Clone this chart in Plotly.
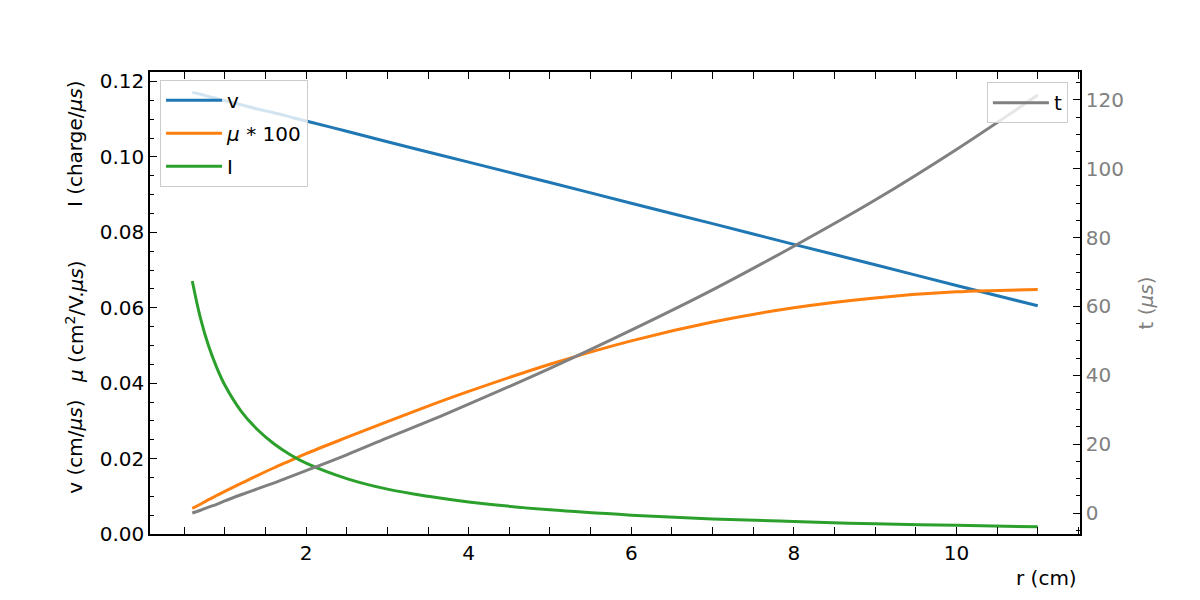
import plotly.graph_objects as go

# r (cm)
r = [0.6, 0.7, 0.8, 0.9, 1.0, 1.2, 1.4, 1.6, 1.8, 2.0, 2.5, 3.0, 3.5, 4.0,
     5.0, 6.0, 7.0, 8.0, 9.0, 10.0, 11.0]
# v (cm/us)
v = [0.1171, 0.1166, 0.1160, 0.1155, 0.1149, 0.1138, 0.1127, 0.1117, 0.1106,
     0.1095, 0.1068, 0.1040, 0.1013, 0.0986, 0.0932, 0.0877, 0.0823, 0.0768,
     0.0714, 0.0659, 0.0605]
# mu*100
mu100 = [0.0068, 0.0079, 0.0091, 0.0102, 0.0113, 0.0134, 0.0155, 0.0175, 0.0194,
         0.0213, 0.0256, 0.0298, 0.0339, 0.0378, 0.0450, 0.0512, 0.0562, 0.0600,
         0.0626, 0.0642, 0.0648]
# I (charge/us)
I = [0.0671, 0.0573, 0.0499, 0.0442, 0.0395, 0.0326, 0.0277, 0.0240, 0.0211,
     0.0188, 0.0147, 0.0119, 0.0100, 0.0085, 0.0064, 0.0050, 0.0040, 0.0033,
     0.0027, 0.0023, 0.0019]
# t (us)
t = [0.0, 0.8, 1.7, 2.5, 3.5, 5.3, 7.0, 8.7, 10.5, 12.3, 16.9, 21.8, 26.6, 31.6,
     42.0, 53.1, 64.8, 77.5, 90.9, 105.6, 121.4]

FONT = "DejaVu Sans"
LW = 3

fig = go.Figure()
fig.add_trace(go.Scatter(x=r, y=v, mode="lines", name="v", legendgroup="g1",
                         line=dict(color="#1f77b4", width=LW, shape="spline"), legend="legend"))
fig.add_trace(go.Scatter(x=r, y=mu100, mode="lines", name="<i>μ</i> * 100", legendgroup="g2",
                         line=dict(color="#ff7f0e", width=LW, shape="spline"), legend="legend"))
fig.add_trace(go.Scatter(x=r, y=I, mode="lines", name="I", legendgroup="g3",
                         line=dict(color="#2ca02c", width=LW, shape="spline"), legend="legend"))
fig.add_trace(go.Scatter(x=r, y=t, mode="lines", name="t", yaxis="y2",
                         line=dict(color="#808080", width=LW, shape="spline"), legend="legend2"))

axis_common = dict(
    ticks="inside", ticklen=7, tickwidth=1.3, tickcolor="black",
    showline=True, linecolor="black", linewidth=1.5,
    showgrid=False, zeroline=False,
    tickfont=dict(family=FONT, size=20, color="black"),
)

fig.update_layout(
    width=1192, height=592, autosize=False,
    margin=dict(l=142, r=120, t=64, b=66),
    paper_bgcolor="white", plot_bgcolor="white",
    font=dict(family=FONT, size=20, color="black"),
    xaxis=dict(range=[0.08, 11.52], tick0=0, dtick=2, mirror="allticks",
               minor=dict(dtick=0.5, tick0=0, ticks="inside", ticklen=4,
                          tickwidth=1, tickcolor="black"),
               **axis_common),
    yaxis=dict(range=[0, 0.1225], tick0=0, dtick=0.02, tickformat=".2f",
               minor=dict(dtick=0.005, tick0=0, ticks="inside", ticklen=4,
                          tickwidth=1, tickcolor="black"),
               **axis_common),
    yaxis2=dict(overlaying="y", side="right", range=[-6.1, 128.1], tick0=0, dtick=20,
                minor=dict(dtick=5, tick0=0, ticks="inside", ticklen=4,
                           tickwidth=1, tickcolor="black"),
                **{**axis_common, "tickfont": dict(family=FONT, size=20, color="#808080")}),
    legend=dict(x=0.0108, y=0.983, xanchor="left", yanchor="top",
                bgcolor="rgba(255,255,255,0.8)", bordercolor="#cccccc", borderwidth=1,
                itemwidth=56, tracegroupgap=4, groupclick="toggleitem",
                font=dict(family=FONT, size=20, color="black")),
    legend2=dict(x=0.987, y=0.978, xanchor="right", yanchor="top",
                 bgcolor="rgba(255,255,255,0.8)", bordercolor="#cccccc", borderwidth=1,
                 itemwidth=56,
                 font=dict(family=FONT, size=20, color="black")),
    showlegend=True,
)

ann_font = dict(family=FONT, size=20, color="black")
fig.add_annotation(text="I (charge/<i>μs</i>)", xref="paper", yref="paper",
                   x=-0.0806, y=0.844, textangle=-90, showarrow=False,
                   xanchor="center", yanchor="middle", font=ann_font)
fig.add_annotation(text="<i>μ</i> (cm<sup>2</sup>/V.<i>μs</i>)", xref="paper", yref="paper",
                   x=-0.0806, y=0.459, textangle=-90, showarrow=False,
                   xanchor="center", yanchor="middle", font=ann_font)
fig.add_annotation(text="v (cm/<i>μs</i>)", xref="paper", yref="paper",
                   x=-0.0806, y=0.189, textangle=-90, showarrow=False,
                   xanchor="center", yanchor="middle", font=ann_font)
fig.add_annotation(text="t (<i>μs</i>)", xref="paper", yref="paper",
                   x=1.071, y=0.499, textangle=-90, showarrow=False,
                   xanchor="center", yanchor="middle",
                   font=dict(family=FONT, size=20, color="#808080"))
fig.add_annotation(text="r (cm)", xref="paper", yref="paper",
                   x=0.999, y=-0.0952, showarrow=False,
                   xanchor="right", yanchor="middle", font=ann_font)

fig.write_html("out.html")
